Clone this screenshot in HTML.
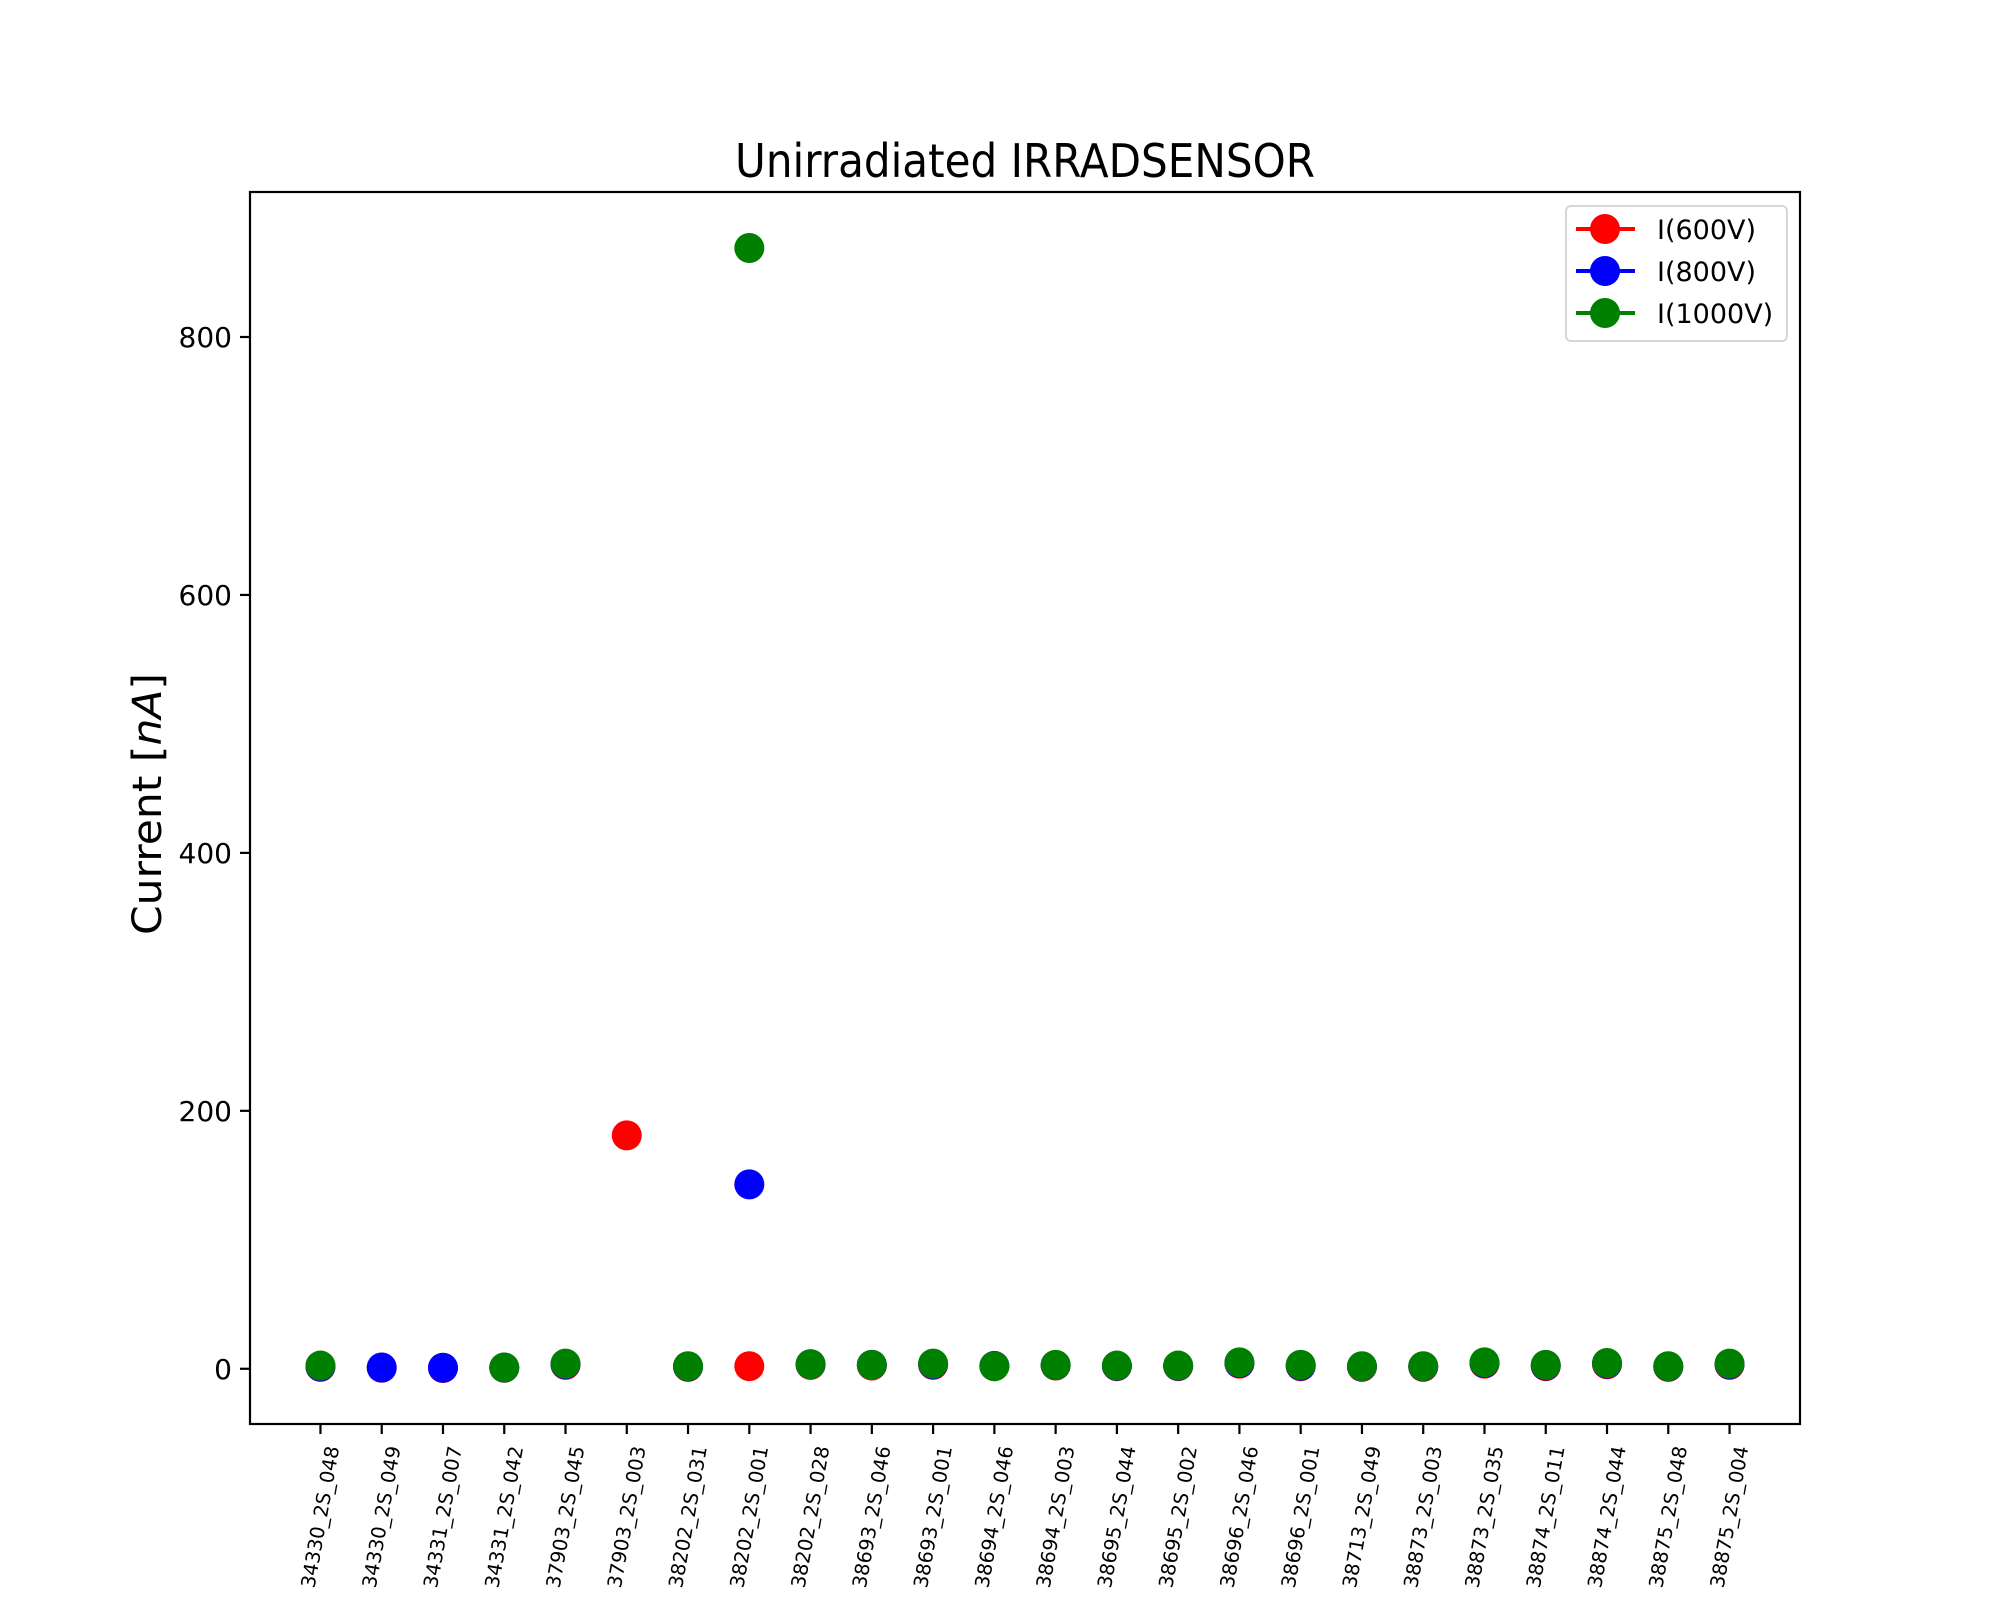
<!DOCTYPE html>
<html><head><meta charset="utf-8"><style>
html,body{margin:0;padding:0;background:#fff;}
svg{display:block;font-family:"DejaVu Sans","Liberation Sans",sans-serif;}
</style></head><body>
<svg id="chart" width="2000" height="1600" viewBox="0 0 2000 1600" xmlns="http://www.w3.org/2000/svg">
<rect width="2000" height="1600" fill="#fff"/>
<text x="1025" y="177" font-size="46" text-anchor="middle" textLength="580" lengthAdjust="spacingAndGlyphs">Unirradiated IRRADSENSOR</text>
<text transform="translate(161,804) rotate(-90)" font-size="40" text-anchor="middle" textLength="262" lengthAdjust="spacingAndGlyphs">Current [<tspan font-style="italic">nA</tspan>]</text>
<g id="marks"></g>
<rect x="250" y="192" width="1550" height="1232" fill="none" stroke="#000" stroke-width="2.2"/>
<g id="yticks"></g>
<g id="xticks"></g>
<g>
<rect x="1566" y="206" width="221" height="135" rx="5" fill="#fff" fill-opacity="0.8" stroke="#d6d6d6" stroke-width="2"/>
<g><line x1="1576" x2="1635" y1="229" y2="229" stroke="red" stroke-width="4"/><circle cx="1605" cy="229" r="15" fill="red"/><text x="1657" y="239" font-size="27">I(600V)</text></g>
<g><line x1="1576" x2="1635" y1="271" y2="271" stroke="blue" stroke-width="4"/><circle cx="1605" cy="271" r="15" fill="blue"/><text x="1657" y="281" font-size="27">I(800V)</text></g>
<g><line x1="1576" x2="1635" y1="313" y2="313" stroke="green" stroke-width="4"/><circle cx="1605" cy="313" r="15" fill="green"/><text x="1657" y="323" font-size="27">I(1000V)</text></g>
</g>
</svg>
<script>
const categories = ["34330_2S_048","34330_2S_049","34331_2S_007","34331_2S_042","37903_2S_045","37903_2S_003","38202_2S_031","38202_2S_001","38202_2S_028","38693_2S_046","38693_2S_001","38694_2S_046","38694_2S_003","38695_2S_044","38695_2S_002","38696_2S_046","38696_2S_001","38713_2S_049","38873_2S_003","38873_2S_035","38874_2S_011","38874_2S_044","38875_2S_048","38875_2S_004"];
const i600 = [1.5,0.8,0.6,0.8,3,181,1.5,2,3,2.5,3,2,2.5,2,2,4,2,1.5,1.5,4,2,3.5,1.5,3];
const i800 = [1.8,1,0.8,0.9,3.5,null,1.8,143,3.5,3,3.5,2.2,2.8,2.2,2.2,4.5,2.3,1.8,1.8,4.5,2.5,4,1.8,3.5];
const i1000 = [2.5,null,null,1,4,null,2,869,3.5,3,4,2,3,2.5,2.5,5,3,2,2,5,3,4.5,2,4];
const yTicks = [0,200,400,600,800];

const NS="http://www.w3.org/2000/svg";
const L=250,R=1800,T=192,B=1424;
const n=categories.length;
const xmin=-0.05*(n-1), xmax=(n-1)*1.05;
const all=[...i600,...i800,...i1000].filter(v=>v!=null);
const dmin=Math.min(...all), dmax=Math.max(...all);
const ymin=dmin-0.05*(dmax-dmin), ymax=dmax+0.05*(dmax-dmin);
const xs=i=>L+(i-xmin)/(xmax-xmin)*(R-L);
const ys=v=>B-(v-ymin)/(ymax-ymin)*(B-T);
function mk(tag,attrs,parent){const e=document.createElementNS(NS,tag);for(const k in attrs)e.setAttribute(k,attrs[k]);parent.appendChild(e);return e;}
const marks=document.getElementById('marks');
[[i600,'red','600v'],[i800,'blue','800v'],[i1000,'green','1000v']].forEach(([arr,col,nm])=>{
  const g=mk('g',{},marks);
  
  
  arr.forEach((v,i)=>{
    if(v==null)return;
    const c=mk('circle',{cx:xs(i),cy:ys(v),r:15,fill:col},g);
    
    
  });
});
const yg=document.getElementById('yticks');
yTicks.forEach(t=>{
  const y=ys(t);
  const l=mk('line',{x1:L-10,x2:L,y1:y,y2:y,stroke:'#000','stroke-width':2.2},yg);
  
  
  const tx=mk('text',{x:L-18,y:y+10,'font-size':28,'text-anchor':'end'},yg);
  tx.textContent=t;
  
  
});
const xg=document.getElementById('xticks');
categories.forEach((c,i)=>{
  const x=xs(i);
  const l=mk('line',{x1:x,x2:x,y1:B,y2:B+10,stroke:'#000','stroke-width':2.2},xg);
  
  
  const tx=mk('text',{transform:`translate(${x},1517) rotate(-80)`,'font-size':19.5,'text-anchor':'middle','dominant-baseline':'central'},xg);
  tx.textContent=c;
  
  
});
</script>
</body></html>
